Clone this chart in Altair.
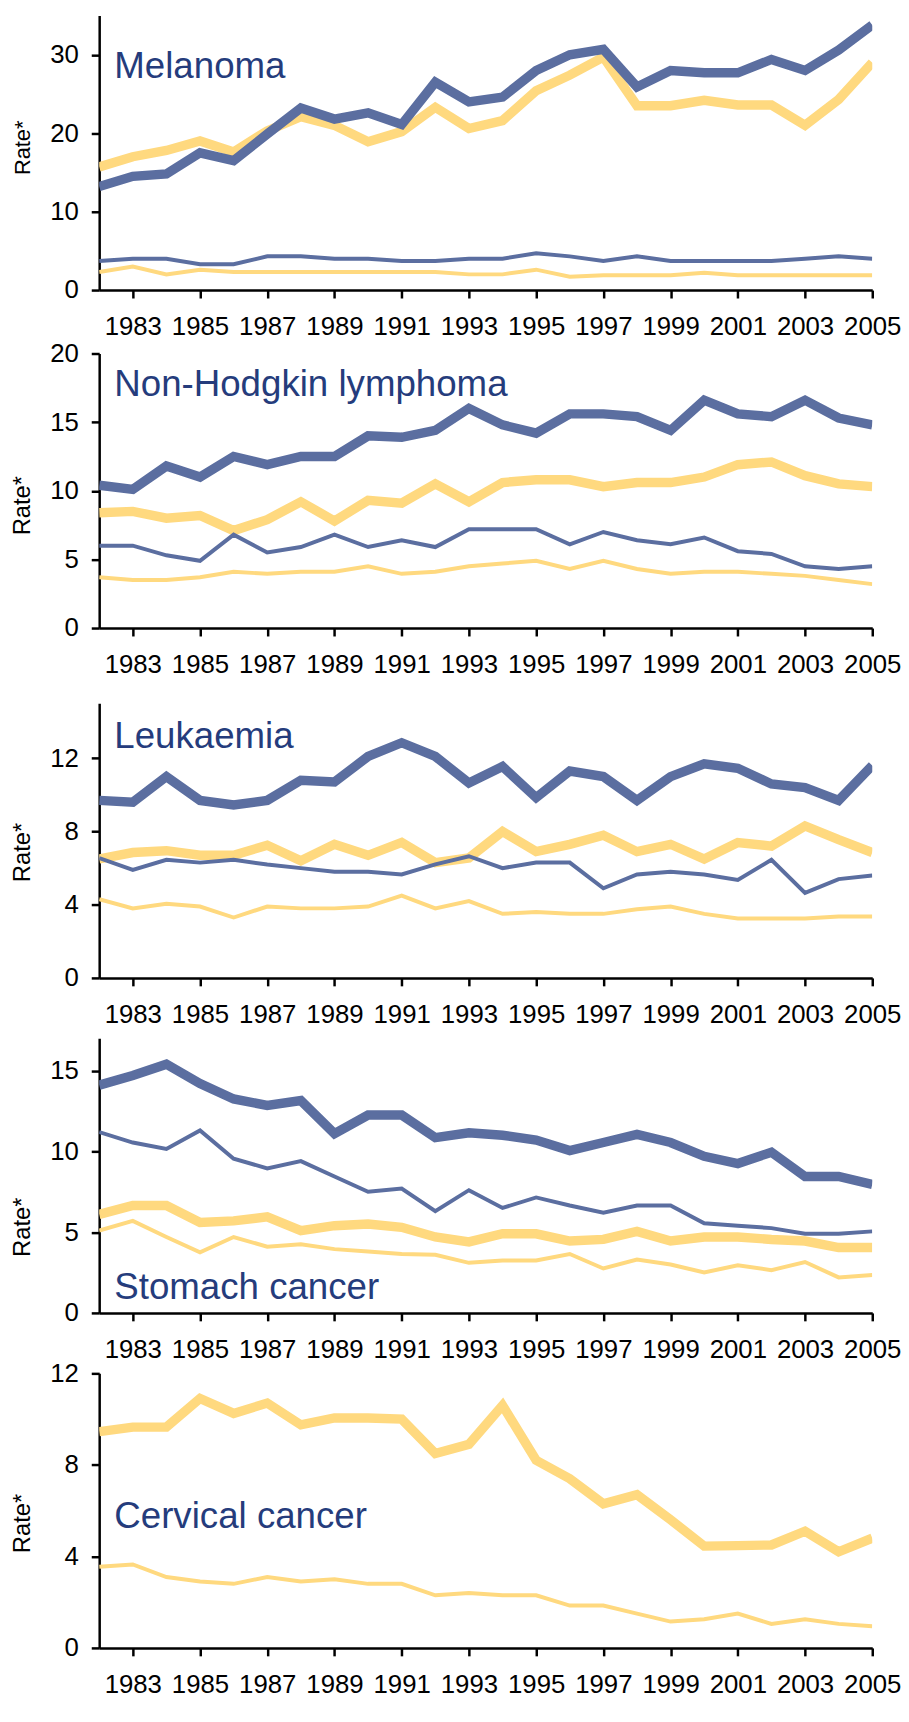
import altair as alt
import pandas as pd

years = list(range(1982, 2006))
x_tick_years = [1983, 1985, 1987, 1989, 1991, 1993, 1995, 1997, 1999, 2001, 2003, 2005]

# Melanoma
mel_thick_blue = [13.2, 14.5, 14.8, 17.5, 16.5, 19.9, 23.2, 21.8, 22.6, 21.1, 26.5, 24.0, 24.6, 28.0, 30.0, 30.7, 25.9, 28.0, 27.7, 27.7, 29.4, 28.0, 30.6, 33.8]
mel_thick_yellow = [15.7, 17.0, 17.8, 19.0, 17.6, 20.3, 22.1, 21.0, 18.9, 20.2, 23.3, 20.6, 21.6, 25.4, 27.4, 29.7, 23.5, 23.5, 24.2, 23.6, 23.6, 21.0, 24.3, 29.0]
mel_thin_blue = [3.7, 4.0, 4.0, 3.3, 3.3, 4.3, 4.3, 4.0, 4.0, 3.7, 3.7, 4.0, 4.0, 4.7, 4.3, 3.7, 4.3, 3.7, 3.7, 3.7, 3.7, 4.0, 4.3, 4.0]
mel_thin_yellow = [2.3, 3.0, 2.0, 2.6, 2.3, 2.3, 2.3, 2.3, 2.3, 2.3, 2.3, 2.0, 2.0, 2.6, 1.7, 1.9, 1.9, 1.9, 2.2, 1.9, 1.9, 1.9, 1.9, 1.9]

# Non-Hodgkin lymphoma
nhl_thick_blue = [10.4, 10.1, 11.8, 11.0, 12.5, 11.9, 12.5, 12.5, 14.0, 13.9, 14.4, 16.0, 14.8, 14.2, 15.6, 15.6, 15.4, 14.4, 16.6, 15.6, 15.4, 16.6, 15.3, 14.8]
nhl_thick_yellow = [8.4, 8.5, 8.0, 8.2, 7.1, 7.9, 9.2, 7.8, 9.3, 9.1, 10.5, 9.2, 10.6, 10.8, 10.8, 10.3, 10.6, 10.6, 11.0, 11.9, 12.1, 11.1, 10.5, 10.3]
nhl_thin_blue = [6.0, 6.0, 5.3, 4.9, 6.8, 5.5, 5.9, 6.8, 5.9, 6.4, 5.9, 7.2, 7.2, 7.2, 6.1, 7.0, 6.4, 6.1, 6.6, 5.6, 5.4, 4.5, 4.3, 4.5]
nhl_thin_yellow = [3.7, 3.5, 3.5, 3.7, 4.1, 3.95, 4.1, 4.1, 4.5, 3.95, 4.1, 4.5, 4.7, 4.9, 4.3, 4.9, 4.3, 3.95, 4.1, 4.1, 3.95, 3.8, 3.5, 3.2]

# Leukaemia
leu_thick_blue = [9.7, 9.6, 11.0, 9.7, 9.45, 9.7, 10.8, 10.7, 12.1, 12.85, 12.1, 10.65, 11.55, 9.85, 11.3, 11.0, 9.7, 11.0, 11.7, 11.45, 10.6, 10.4, 9.7, 11.6]
leu_thick_yellow = [6.5, 6.85, 6.95, 6.7, 6.7, 7.25, 6.4, 7.3, 6.7, 7.4, 6.3, 6.55, 8.0, 6.9, 7.3, 7.8, 6.9, 7.3, 6.5, 7.4, 7.2, 8.3, 7.55, 6.85]
leu_thin_blue = [6.55, 5.9, 6.45, 6.3, 6.45, 6.2, 6.0, 5.8, 5.8, 5.65, 6.2, 6.65, 6.0, 6.3, 6.3, 4.9, 5.65, 5.8, 5.65, 5.35, 6.45, 4.65, 5.4, 5.6]
leu_thin_yellow = [4.3, 3.8, 4.05, 3.9, 3.3, 3.9, 3.8, 3.8, 3.9, 4.5, 3.8, 4.2, 3.5, 3.6, 3.5, 3.5, 3.75, 3.9, 3.5, 3.25, 3.25, 3.25, 3.35, 3.35]

# Stomach cancer
sto_thick_blue = [14.1, 14.7, 15.4, 14.2, 13.25, 12.85, 13.15, 11.1, 12.25, 12.25, 10.85, 11.15, 11.0, 10.7, 10.05, 10.55, 11.05, 10.55, 9.7, 9.25, 9.95, 8.45, 8.45, 7.95]
sto_thin_blue = [11.2, 10.55, 10.15, 11.3, 9.55, 8.95, 9.4, 8.45, 7.5, 7.7, 6.3, 7.6, 6.5, 7.15, 6.65, 6.2, 6.65, 6.65, 5.55, 5.4, 5.25, 4.9, 4.9, 5.05]
sto_thick_yellow = [6.1, 6.65, 6.65, 5.6, 5.7, 5.95, 5.1, 5.4, 5.5, 5.3, 4.7, 4.4, 4.9, 4.9, 4.45, 4.55, 5.05, 4.45, 4.7, 4.7, 4.55, 4.45, 4.05, 4.05]
sto_thin_yellow = [5.1, 5.7, 4.7, 3.75, 4.7, 4.1, 4.25, 3.95, 3.8, 3.65, 3.6, 3.1, 3.25, 3.25, 3.65, 2.75, 3.3, 3.0, 2.5, 2.95, 2.65, 3.15, 2.2, 2.35]

# Cervical cancer
cer_thick_yellow = [9.45, 9.65, 9.65, 10.9, 10.25, 10.7, 9.75, 10.05, 10.05, 10.0, 8.5, 8.9, 10.6, 8.2, 7.4, 6.3, 6.7, 5.6, 4.45, 4.47, 4.5, 5.1, 4.2, 4.8]
cer_thin_yellow = [3.55, 3.65, 3.1, 2.9, 2.8, 3.1, 2.9, 3.0, 2.8, 2.8, 2.3, 2.4, 2.3, 2.3, 1.85, 1.85, 1.5, 1.15, 1.25, 1.5, 1.05, 1.25, 1.05, 0.95]

# Panel names and where they sit (year, rate)
panel_names = ["Melanoma", "Non-Hodgkin lymphoma", "Leukaemia", "Stomach cancer", "Cervical  cancer"]
name_year = 1982.45
name_rate = [27.0, 16.9, 12.55, 0.85, 5.25]

BLUE = "#5B6EA0"
YELLOW = "#FFD97F"
TITLE_COLOR = "#253C7C"
FONT = "Liberation Sans"
THICK = 9.5
THIN = 4

PLOT_W = 780
PLOT_H = 277


def panel(series, ymax, yticks, name, name_y, rate_y, rate_size=24):
    xs = alt.Scale(domain=[1982, 2005], nice=False, zero=False)
    ys = alt.Scale(domain=[0, ymax], nice=False, zero=True)
    xaxis = alt.Axis(
        values=x_tick_years,
        format="d",
        title=None,
        tickSize=8,
        labelPadding=16,
        labelOverlap=False,
        labelFlush=False,
    )
    yaxis = alt.Axis(
        values=yticks,
        title="Rate*",
        titleFontSize=rate_size,
        titleFont=FONT,
        titleFontWeight="normal",
        titleColor="black",
        titleAngle=-90,
        titleX=-77,
        titleY=rate_y,
        titleAlign="center",
        titleBaseline="middle",
        tickSize=8,
        labelPadding=13,
        labelFlush=False,
    )
    layers = []
    for vals, color, width in series:
        df = pd.DataFrame({"year": years, "rate": vals})
        layers.append(
            alt.Chart(df)
            .mark_line(color=color, strokeWidth=width, strokeJoin="miter",
                       strokeMiterLimit=4, clip=True)
            .encode(
                x=alt.X("year:Q", scale=xs, axis=xaxis),
                y=alt.Y("rate:Q", scale=ys, axis=yaxis),
            )
        )
    label = (
        alt.Chart(pd.DataFrame({"name": [name]}))
        .mark_text(
            align="left",
            baseline="alphabetic",
            font=FONT,
            fontSize=37,
            color=TITLE_COLOR,
        )
        .encode(
            x=alt.X(datum=name_year, type="quantitative", scale=xs, axis=xaxis),
            y=alt.Y(datum=name_y, type="quantitative", scale=ys, axis=yaxis),
            text="name:N",
        )
    )
    layers.append(label)
    return alt.layer(*layers).properties(width=PLOT_W, height=PLOT_H)


p1 = panel(
    [(mel_thin_yellow, YELLOW, THIN), (mel_thick_yellow, YELLOW, THICK),
     (mel_thin_blue, BLUE, THIN), (mel_thick_blue, BLUE, THICK)],
    35, [0, 10, 20, 30], panel_names[0], name_rate[0], 133, 22,
)
p2 = panel(
    [(nhl_thin_yellow, YELLOW, THIN), (nhl_thick_yellow, YELLOW, THICK),
     (nhl_thin_blue, BLUE, THIN), (nhl_thick_blue, BLUE, THICK)],
    20, [0, 5, 10, 15, 20], panel_names[1], name_rate[1], 153,
)
p3 = panel(
    [(leu_thin_yellow, YELLOW, THIN), (leu_thick_yellow, YELLOW, THICK),
     (leu_thin_blue, BLUE, THIN), (leu_thick_blue, BLUE, THICK)],
    15, [0, 4, 8, 12], panel_names[2], name_rate[2], 150,
)
p4 = panel(
    [(sto_thin_yellow, YELLOW, THIN), (sto_thick_yellow, YELLOW, THICK),
     (sto_thin_blue, BLUE, THIN), (sto_thick_blue, BLUE, THICK)],
    17, [0, 5, 10, 15], panel_names[3], name_rate[3], 190,
)
p5 = panel(
    [(cer_thin_yellow, YELLOW, THIN), (cer_thick_yellow, YELLOW, THICK)],
    12, [0, 4, 8, 12], panel_names[4], name_rate[4], 151,
)

top_pair = alt.vconcat(p1, p2, spacing=64, bounds="flush")
bottom_three = alt.vconcat(p3, p4, p5, spacing=61, bounds="flush")

chart = (
    alt.vconcat(top_pair, bottom_three, spacing=26, bounds="full")
    .properties(padding={"left": 3, "top": 0, "right": 0, "bottom": 0})
    .configure(font=FONT)
    .configure_view(stroke=None)
    .configure_axis(
        grid=False,
        domainColor="black",
        domainWidth=2.5,
        tickColor="black",
        tickWidth=2.5,
        labelFont=FONT,
        labelFontSize=26,
        labelColor="black",
    )
)

chart.save("out.html", embed_options={"renderer": "svg", "actions": False})
